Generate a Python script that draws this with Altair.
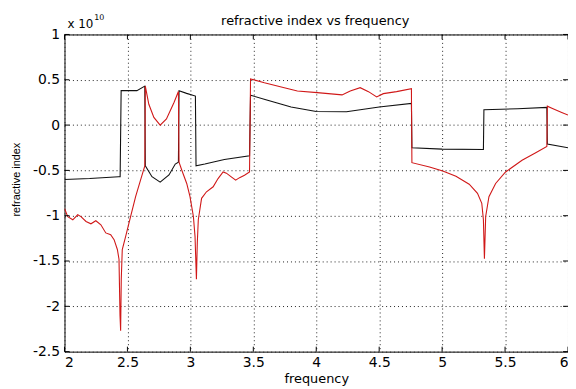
import altair as alt
import pandas as pd

# black curve (values in units of 1e10)
black_freq = [2.00, 2.20, 2.43, 2.442, 2.45, 2.575, 2.638, 2.642, 2.695, 2.76, 2.83, 2.88, 2.905,
              2.91, 2.97, 3.04, 3.045, 3.115, 3.27, 3.47, 3.478, 3.60, 3.80, 4.00, 4.24, 4.50,
              4.756, 4.76, 5.00, 5.328, 5.332, 5.60, 5.832, 5.836, 6.00]
black_n = [-0.60, -0.59, -0.57, -0.57, 0.38, 0.38, 0.43, -0.45, -0.57, -0.63, -0.55, -0.43, -0.41,
           0.38, 0.35, 0.32, -0.45, -0.43, -0.38, -0.34, 0.33, 0.28, 0.20, 0.15, 0.147, 0.20,
           0.24, -0.25, -0.265, -0.27, 0.17, 0.18, 0.195, -0.21, -0.25]

# red curve (values in units of 1e10)
red_freq = [2.00, 2.026, 2.066, 2.105, 2.131, 2.171, 2.21, 2.249, 2.289, 2.328, 2.367, 2.394, 2.42,
            2.433, 2.441, 2.446, 2.451, 2.459, 2.486, 2.525, 2.565, 2.604, 2.638, 2.642, 2.67,
            2.71, 2.76, 2.81, 2.87, 2.905, 2.91, 2.932, 2.971, 2.997, 3.024, 3.037, 3.048, 3.055,
            3.063, 3.089, 3.128, 3.181, 3.22, 3.26, 3.286, 3.325, 3.36, 3.391, 3.43, 3.47, 3.478,
            3.588, 3.746, 3.85, 4.008, 4.205, 4.27, 4.349, 4.415, 4.48, 4.533, 4.638, 4.756, 4.76,
            4.90, 5.005, 5.11, 5.215, 5.281, 5.315, 5.328, 5.336, 5.346, 5.372, 5.425, 5.504,
            5.635, 5.74, 5.832, 5.836, 5.872, 5.95, 6.00]
red_n = [-0.92, -1.01, -1.045, -0.99, -1.01, -1.064, -1.089, -1.056, -1.10, -1.19, -1.21, -1.264,
         -1.373, -1.48, -2.10, -2.27, -1.70, -1.373, -1.228, -1.009, -0.79, -0.608, -0.45, 0.43, 0.23,
         0.085, 0.0, 0.067, 0.25, 0.37, -0.41, -0.498, -0.644, -0.79, -1.009, -1.228, -1.70, -1.30,
         -1.045, -0.808, -0.736, -0.681, -0.59, -0.517, -0.53, -0.571, -0.608, -0.58, -0.553, -0.517,
         0.51, 0.468, 0.413, 0.377, 0.358, 0.333, 0.377, 0.413, 0.369, 0.311, 0.347, 0.369, 0.402,
         -0.415, -0.462, -0.506, -0.564, -0.652, -0.753, -0.863, -1.045, -1.476, -1.009, -0.79,
         -0.644, -0.517, -0.389, -0.309, -0.236, 0.209, 0.187, 0.14, 0.11]

x_ticks = [2, 2.5, 3, 3.5, 4, 4.5, 5, 5.5, 6]
y_ticks = [-2.5, -2, -1.5, -1, -0.5, 0, 0.5, 1]

W, H = 508, 320
FONT = "DejaVu Sans"

rows = ([{"frequency": f, "n": v, "series": "a_black", "i": k} for k, (f, v) in enumerate(zip(black_freq, black_n))]
        + [{"frequency": f, "n": v, "series": "b_red", "i": k} for k, (f, v) in enumerate(zip(red_freq, red_n))])
df = pd.DataFrame(rows)
xt_df = pd.DataFrame({"frequency": x_ticks})
yt_df = pd.DataFrame({"n": y_ticks})
one = pd.DataFrame({"a": [0]})

xs = alt.Scale(domain=[2, 6], nice=False, zero=False)
ys = alt.Scale(domain=[-2.5, 1], nice=False, zero=False)

x_axis = alt.Axis(values=x_ticks, title="frequency", labelPadding=4, labelExpr="datum.value",
                  titleX=W / 2, titleY=31, titleBaseline="alphabetic")
y_axis = alt.Axis(values=y_ticks, title="refractive index", labelPadding=5,
                  labelExpr="datum.value", titleFont="Liberation Sans", titleFontSize=11,
                  titleX=-48, titleY=146, titleBaseline="middle")

X = alt.X("frequency:Q", scale=xs, axis=x_axis)
Y = alt.Y("n:Q", scale=ys, axis=y_axis)

lines = alt.Chart(df).mark_line(strokeWidth=1.1, clip=True).encode(
    x=X, y=Y,
    color=alt.Color("series:N", scale=alt.Scale(domain=["a_black", "b_red"],
                                                range=["#111111", "#d01818"]), legend=None),
    order="i:Q",
)

tick_len = 5
xt_bottom = alt.Chart(xt_df).mark_rule(color="#000", strokeWidth=1).encode(
    x=X, y=alt.value(H), y2=alt.value(H - tick_len))
xt_top = alt.Chart(xt_df).mark_rule(color="#000", strokeWidth=1).encode(
    x=X, y=alt.value(0), y2=alt.value(tick_len))
yt_left = alt.Chart(yt_df).mark_rule(color="#000", strokeWidth=1).encode(
    y=Y, x=alt.value(0), x2=alt.value(tick_len))
yt_right = alt.Chart(yt_df).mark_rule(color="#000", strokeWidth=1).encode(
    y=Y, x=alt.value(W), x2=alt.value(W - tick_len))

title_txt = alt.Chart(one).mark_text(text="refractive index vs frequency", font=FONT, fontSize=13,
                                      align="center", baseline="alphabetic", color="#000").encode(
    x=alt.value(W / 2 - 1), y=alt.value(-10))
exp_main = alt.Chart(one).mark_text(text="x 10", font=FONT, fontSize=12, align="left",
                                     baseline="alphabetic", color="#000").encode(
    x=alt.value(3), y=alt.value(-7))
exp_sup = alt.Chart(one).mark_text(text="10", font=FONT, fontSize=8, align="left",
                                    baseline="alphabetic", color="#000").encode(
    x=alt.value(30), y=alt.value(-15))

chart = alt.layer(lines, xt_bottom, xt_top, yt_left, yt_right, title_txt, exp_main, exp_sup).properties(
    width=W, height=H,
    autosize=alt.AutoSizeParams(type="none"),
    padding={"left": 57, "top": 25, "right": 0, "bottom": 36},
    background="white",
).configure_view(stroke="#000", strokeWidth=1).configure_axis(
    grid=True, gridDash=[1, 3], gridColor="#222", gridOpacity=1, gridWidth=1,
    ticks=False, domain=False, labelFont=FONT, labelFontSize=14, labelColor="#000",
    titleFont=FONT, titleFontSize=13, titleFontWeight="normal", titleColor="#000",
)

chart.save("out.html", embed_options={"renderer": "svg", "actions": False})
